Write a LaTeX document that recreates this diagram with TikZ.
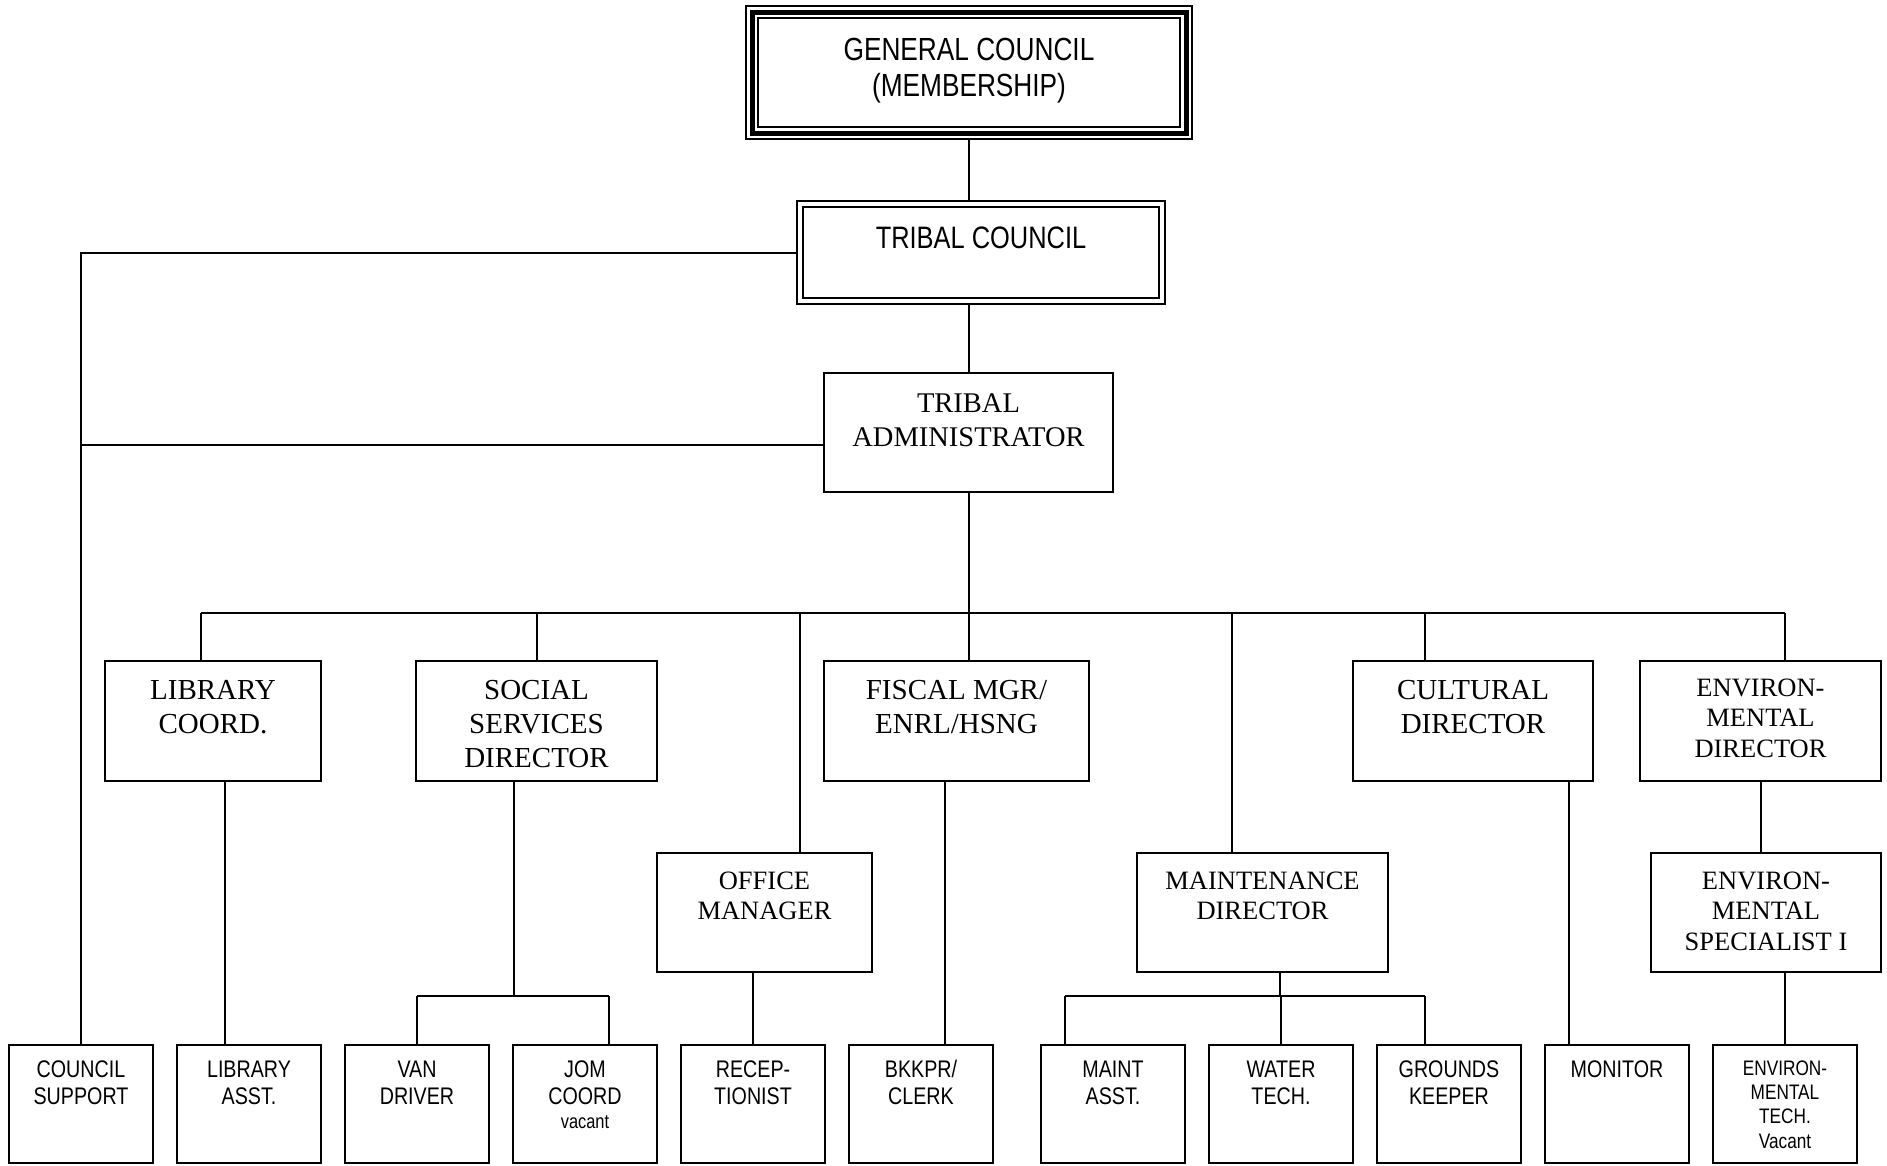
\documentclass[tikz,border=0pt]{standalone}
\usepackage{fontspec}
\setmainfont{Liberation Serif}
\newfontfamily\narrowsans[FakeStretch=0.82]{Liberation Sans}
\newcommand{\boxtext}[4]{\begin{minipage}[t][#2pt][t]{#1pt}\centering\rule{0pt}{#3pt}#4\end{minipage}}
\tikzset{
  box/.style={draw, line width=2pt, fill=white, inner sep=0pt, outer sep=0pt},
  link/.style={line width=2pt},
  serifmid/.style={font=\fontsize{29}{33.7}\selectfont},
  serifsm/.style={font=\fontsize{26.5}{30.7}\selectfont},
  sanstop/.style={font=\narrowsans\fontsize{32}{36}\selectfont},
  sansbot/.style={font=\narrowsans\fontsize{24}{27.5}\selectfont},
}
\begin{document}
\begin{tikzpicture}[x=1pt,y=-1pt]
\fill[white] (0,0) rectangle (1887,1165);
\useasboundingbox (0,0) rectangle (1887,1165);

% top
\node[box, sanstop] (gc) at (969,72.5) {\boxtext{446}{133}{54.5}{GENERAL COUNCIL\\(MEMBERSHIP)}};
\draw[line width=5pt] ([shift={(6,6)}]gc.north west) rectangle ([shift={(-6,-6)}]gc.south east);
\draw[line width=2pt] ([shift={(12,12)}]gc.north west) rectangle ([shift={(-12,-12)}]gc.south east);

\node[box, line width=2.5pt, font=\narrowsans\fontsize{31}{33}\selectfont] (tc) at (981,252.5) {\boxtext{368}{103}{47}{TRIBAL COUNCIL}};
\draw[line width=2.5pt] ([shift={(6,6)}]tc.north west) rectangle ([shift={(-6,-6)}]tc.south east);

\node[box, font=\fontsize{28.5}{34}\selectfont] (ta) at (968.5,432.5) {\boxtext{289}{119}{39.5}{TRIBAL\\ADMINISTRATOR}};

% second row
\node[box, serifmid] (lib) at (213,721) {\boxtext{216}{120}{38.6}{LIBRARY\\COORD.}};
\node[box, serifmid] (ss) at (536.5,721) {\boxtext{241}{120}{38.6}{SOCIAL\\SERVICES\\DIRECTOR}};
\node[box, serifmid] (fis) at (956.5,721) {\boxtext{265}{120}{38.6}{FISCAL MGR/\\ENRL/HSNG}};
\node[box, serifmid] (cul) at (1473,721) {\boxtext{240}{120}{38.6}{CULTURAL\\DIRECTOR}};
\node[box, serifsm] (envd) at (1760.5,721) {\boxtext{241}{120}{35}{ENVIRON-\\MENTAL\\DIRECTOR}};

% third row
\node[box, serifsm] (om) at (764.5,912.5) {\boxtext{215}{119}{36}{OFFICE\\MANAGER}};
\node[box, serifsm] (md) at (1262.5,912.5) {\boxtext{251}{119}{36}{MAINTENANCE\\DIRECTOR}};
\node[box, serifsm] (es) at (1766,912.5) {\boxtext{230}{119}{36}{ENVIRON-\\MENTAL\\SPECIALIST I}};

% bottom row
\node[box, sansbot] (cs) at (81,1104) {\boxtext{144}{118}{32}{COUNCIL\\SUPPORT}};
\node[box, sansbot] (la) at (249,1104) {\boxtext{144}{118}{32}{LIBRARY\\ASST.}};
\node[box, sansbot] (vd) at (417,1104) {\boxtext{144}{118}{32}{VAN\\DRIVER}};
\node[box, sansbot] (jc) at (585,1104) {\boxtext{144}{118}{32}{JOM\\COORD\\[-4pt]{\fontsize{20}{24}\selectfont vacant}}};
\node[box, sansbot] (rc) at (753,1104) {\boxtext{144}{118}{32}{RECEP-\\TIONIST}};
\node[box, sansbot] (bk) at (921,1104) {\boxtext{144}{118}{32}{BKKPR/\\CLERK}};
\node[box, sansbot] (ma) at (1113,1104) {\boxtext{144}{118}{32}{MAINT\\ASST.}};
\node[box, sansbot] (wt) at (1281,1104) {\boxtext{144}{118}{32}{WATER\\TECH.}};
\node[box, sansbot] (gk) at (1449,1104) {\boxtext{144}{118}{32}{GROUNDS\\KEEPER}};
\node[box, sansbot] (mo) at (1617,1104) {\boxtext{144}{118}{32}{MONITOR}};
\node[box, font=\narrowsans\fontsize{21}{24.4}\selectfont] (et) at (1785,1104) {\boxtext{144}{118}{30}{ENVIRON-\\MENTAL\\TECH.\\Vacant}};

% connectors top
\draw[link] (gc.south) -- (gc.south |- tc.north);
\draw[link] (ta.north |- tc.south) -- (ta.north);
\draw[link] (tc.west) -| (cs.north);
\draw[link] ([yshift=-12.5pt]ta.west) -- ([yshift=-12.5pt]ta.west -| cs.north);

% main bus
\coordinate (bus) at (969,613);
\draw[link] (ta.south) -- (ta.south |- bus);
\draw[link] ([xshift=-12pt]lib.north |- bus) -- ([xshift=24.5pt]envd.north |- bus);
\draw[link] ([xshift=-12pt]lib.north) -- ([xshift=-12pt]lib.north |- bus);
\draw[link] (ss.north) -- (ss.north |- bus);
\draw[link] ([xshift=35.5pt]om.north) -- ([xshift=35.5pt]om.north |- bus);
\draw[link] ([xshift=12.5pt]fis.north) -- ([xshift=12.5pt]fis.north |- bus);
\draw[link] ([xshift=-30.5pt]md.north) -- ([xshift=-30.5pt]md.north |- bus);
\draw[link] ([xshift=-48pt]cul.north) -- ([xshift=-48pt]cul.north |- bus);
\draw[link] ([xshift=24.5pt]envd.north) -- ([xshift=24.5pt]envd.north |- bus);

% lower connectors
\draw[link] ([xshift=12pt]lib.south) -- ([xshift=12pt]lib.south |- la.north);
\coordinate (ssbus) at (514,996);
\draw[link] ([xshift=-22.5pt]ss.south) -- ([xshift=-22.5pt]ss.south |- ssbus);
\draw[link] (vd.north |- ssbus) -- ([xshift=24pt]jc.north |- ssbus);
\draw[link] (vd.north) -- (vd.north |- ssbus);
\draw[link] ([xshift=24pt]jc.north) -- ([xshift=24pt]jc.north |- ssbus);
\draw[link] (rc.north |- om.south) -- (rc.north);
\draw[link] ([xshift=-11.5pt]fis.south) -- ([xshift=-11.5pt]fis.south |- bk.north);
\coordinate (mdbus) at (1280,996);
\draw[link] ([xshift=17.5pt]md.south) -- ([xshift=17.5pt]md.south |- mdbus);
\draw[link] ([xshift=-48pt]ma.north |- mdbus) -- ([xshift=-24pt]gk.north |- mdbus);
\draw[link] ([xshift=-48pt]ma.north) -- ([xshift=-48pt]ma.north |- mdbus);
\draw[link] (wt.north) -- (wt.north |- mdbus);
\draw[link] ([xshift=-24pt]gk.north) -- ([xshift=-24pt]gk.north |- mdbus);
\draw[link] ([xshift=96pt]cul.south) -- ([xshift=96pt]cul.south |- mo.north);
\draw[link] (envd.south) -- (envd.south |- es.north);
\draw[link] ([xshift=19pt]es.south) -- ([xshift=19pt]es.south |- et.north);
\end{tikzpicture}
\end{document}
